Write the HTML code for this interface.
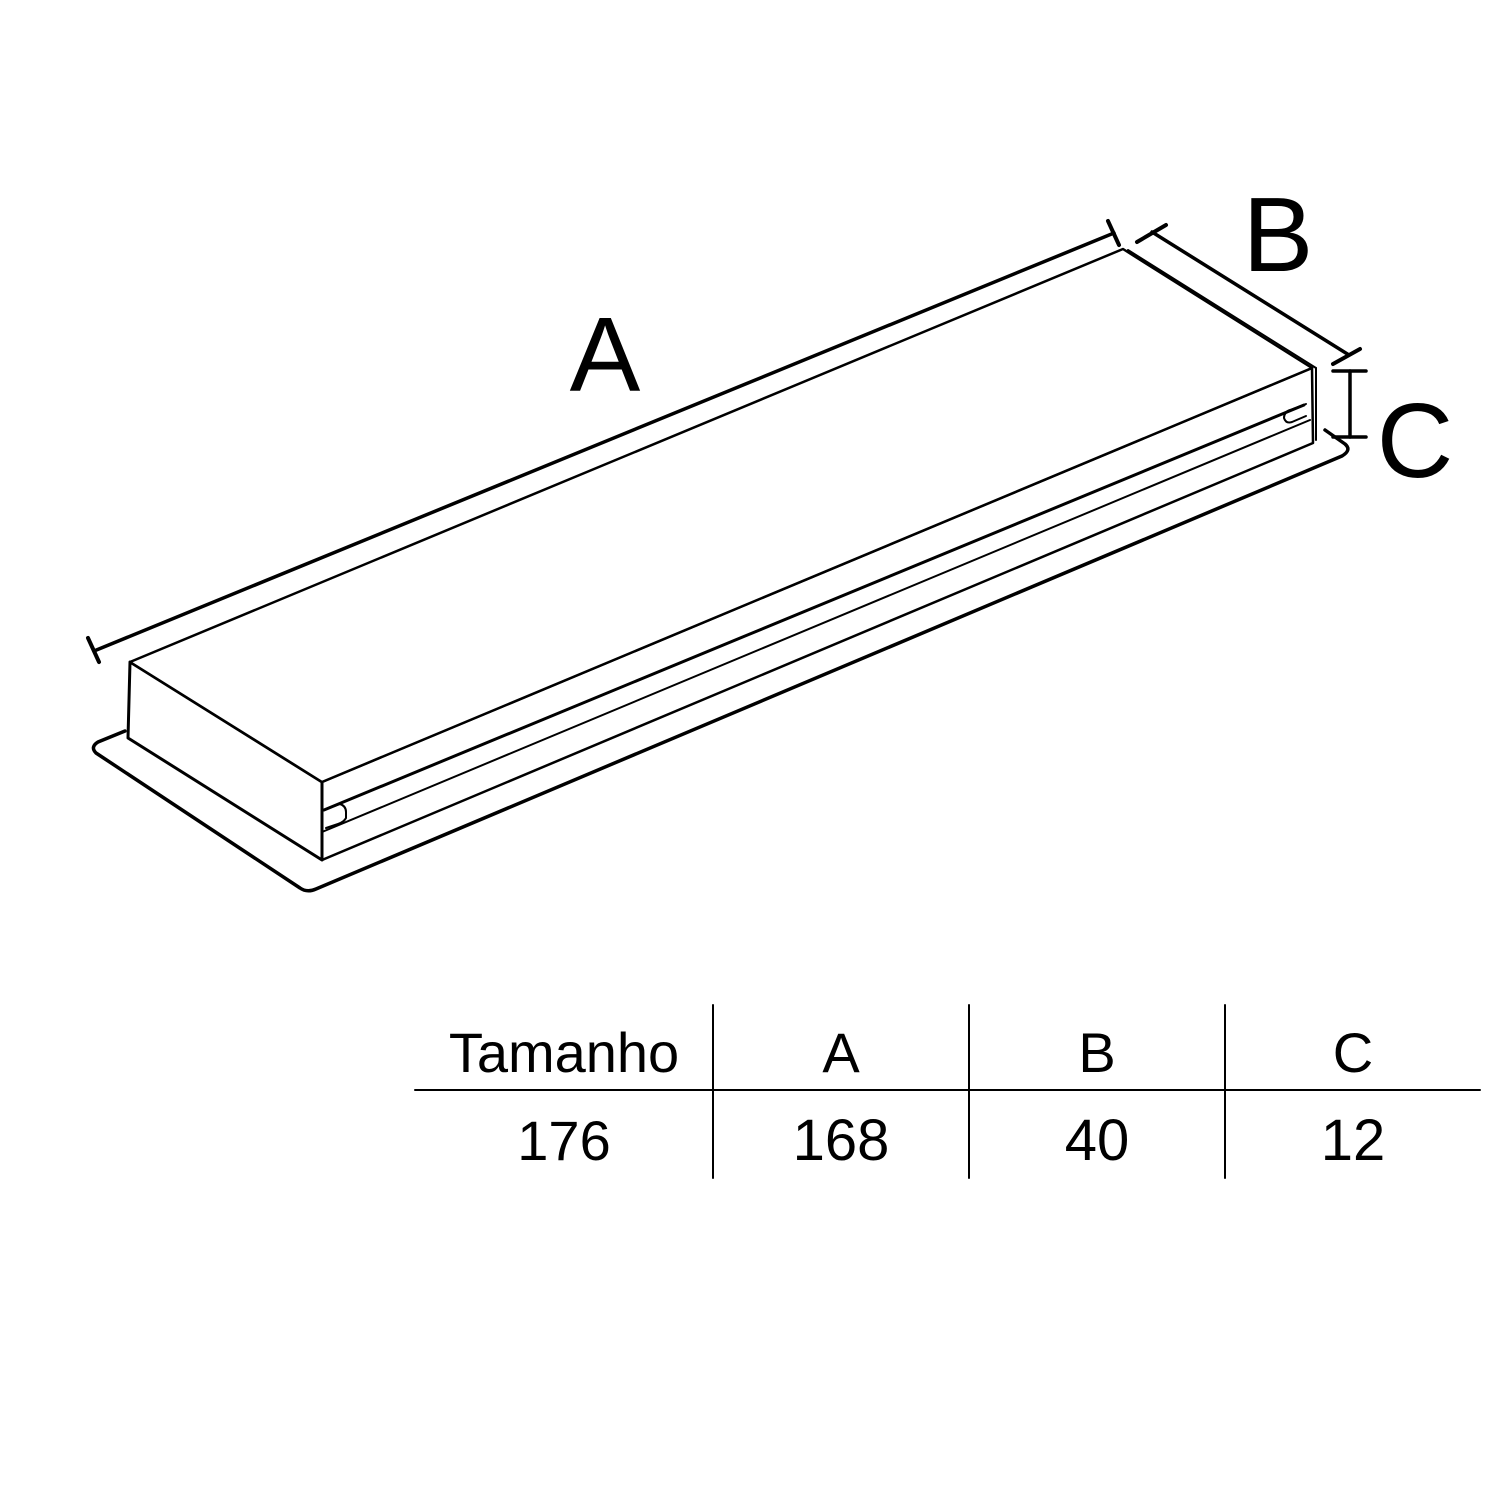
<!DOCTYPE html>
<html><head><style>
body{margin:0;background:#fff;}
svg{display:block}
text{font-family:"Liberation Sans",sans-serif;fill:#000}
</style></head><body>
<svg width="1512" height="1512" viewBox="0 0 1512 1512">
<g fill="none" stroke="#000" stroke-linejoin="round" stroke-linecap="round">
<path d="M125,731 L98,742 Q90,747 96,753 L300,888 Q307,893 316,889 L1342,456 Q1352,450 1345,444 L1325,430" fill="#fff" stroke-width="3.5"/>
<path d="M322,782 L1312,368 L1313,443 L322,860 Z" fill="#fff" stroke-width="2.5"/>
<path d="M130,662 L322,782 L322,860 L128,738 Z" fill="#fff" stroke-width="3"/>
<path d="M130,662 L1123,249 L1312,368 L322,782 Z" fill="#fff" stroke-width="2.5"/>
<line x1="1128" y1="250" x2="1316" y2="368" stroke-width="2"/>
<line x1="1316" y1="368" x2="1316" y2="440" stroke-width="2"/>
<line x1="324" y1="810" x2="1304" y2="405" stroke-width="3"/>
<line x1="322" y1="832" x2="1310" y2="420" stroke-width="2"/>
<path d="M324,810 L340,804 Q346,806 346,812 L346,818 Q344,822 338,824 L326,828" stroke-width="2"/>
<path d="M1306,404 L1290,410 Q1284,412 1284,418 Q1286,424 1292,422 L1306,416" stroke-width="2"/>
<line x1="94" y1="651" x2="1114" y2="233" stroke-width="3.5"/>
<line x1="88" y1="638" x2="99" y2="662" stroke-width="4"/>
<line x1="1108" y1="221" x2="1119" y2="245" stroke-width="4"/>
<line x1="1152" y1="232" x2="1349" y2="355" stroke-width="3.5"/>
<line x1="1137" y1="242" x2="1166" y2="225" stroke-width="4"/>
<line x1="1333" y1="364" x2="1360" y2="349" stroke-width="4"/>
<line x1="1350" y1="371" x2="1350" y2="437" stroke-width="3.5"/>
<line x1="1333" y1="371" x2="1366" y2="371" stroke-width="3.5"/>
<line x1="1333" y1="437" x2="1366" y2="437" stroke-width="3.5"/>
<line x1="415" y1="1090" x2="1480" y2="1090" stroke-width="2"/>
<line x1="713" y1="1005" x2="713" y2="1178" stroke-width="2"/>
<line x1="969" y1="1005" x2="969" y2="1178" stroke-width="2"/>
<line x1="1225" y1="1005" x2="1225" y2="1178" stroke-width="2"/>
</g>
<text x="605" y="391" font-size="106" text-anchor="middle">A</text>
<text x="1278" y="271" font-size="106" text-anchor="middle">B</text>
<text x="1415" y="477" font-size="106" text-anchor="middle">C</text>
<g font-size="56" text-anchor="middle">
<text x="564" y="1072">Tamanho</text>
<text x="841" y="1072">A</text>
<text x="1097" y="1072">B</text>
<text x="1353" y="1072">C</text>
<text x="564" y="1160">176</text>
<text x="841" y="1160" font-size="58">168</text>
<text x="1097" y="1160" font-size="58">40</text>
<text x="1353" y="1160" font-size="58">12</text>
</g>
</svg>
</body></html>
